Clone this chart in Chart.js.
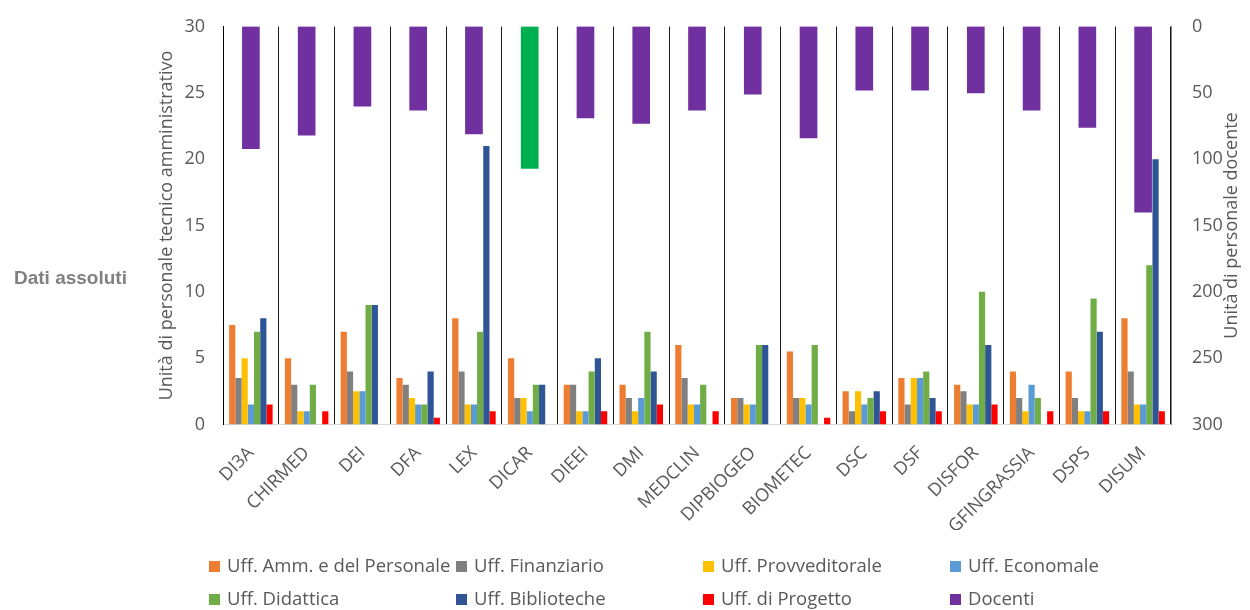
<!DOCTYPE html>
<html>
<head>
<meta charset="utf-8">
<script src="https://cdn.jsdelivr.net/npm/chart.js@4.4.1/dist/chart.umd.min.js"></script>
<style>
  html, body { margin: 0; padding: 0; background: #ffffff; }
  #wrap { width: 1250px; height: 610px; position: relative; }
</style>
</head>
<body>
<div id="wrap"><canvas id="chart" width="1250" height="610"></canvas></div>
<script>
// Dipartimenti
const categories = ['DI3A', 'CHIRMED', 'DEI', 'DFA', 'LEX', 'DICAR', 'DIEEI', 'DMI', 'MEDCLIN',
  'DIPBIOGEO', 'BIOMETEC', 'DSC', 'DSF', 'DISFOR', 'GFINGRASSIA', 'DSPS', 'DISUM'];

// Personale tecnico amministrativo per ufficio (asse sinistro)
const uffAmmPersonale = [7.5, 5, 7, 3.5, 8, 5, 3, 3, 6, 2, 5.5, 2.5, 3.5, 3, 4, 4, 8];
const uffFinanziario  = [3.5, 3, 4, 3, 4, 2, 3, 2, 3.5, 2, 2, 1, 1.5, 2.5, 2, 2, 4];
const uffProvveditorale = [5, 1, 2.5, 2, 1.5, 2, 1, 1, 1.5, 1.5, 2, 2.5, 3.5, 1.5, 1, 1, 1.5];
const uffEconomale    = [1.5, 1, 2.5, 1.5, 1.5, 1, 1, 2, 1.5, 1.5, 1.5, 1.5, 3.5, 1.5, 3, 1, 1.5];
const uffDidattica    = [7, 3, 9, 1.5, 7, 3, 4, 7, 3, 6, 6, 2, 4, 10, 2, 9.5, 12];
const uffBiblioteche  = [8, 0, 9, 4, 21, 3, 5, 4, 0, 6, 0, 2.5, 2, 6, 0, 7, 20];
const uffProgetto     = [1.5, 1, 0, 0.5, 1, 0, 1, 1.5, 1, 0, 0.5, 1, 1, 1.5, 1, 1, 1];

// Personale docente (asse destro, invertito)
const docenti = [92, 82, 60, 63, 81, 107, 69, 73, 63, 51, 84, 48, 48, 50, 63, 76, 140];

// Tacche degli assi
const leftTicks = [0, 5, 10, 15, 20, 25, 30];
const rightTicks = [0, 50, 100, 150, 200, 250, 300];

const FONT = "'Open Sans', 'Liberation Sans', sans-serif";
const TXT = '#595959';

const docentiColors = categories.map(c => c === 'DICAR' ? '#00B050' : '#7030A0');

function barSet(label, data, color) {
  return {
    label, data, backgroundColor: color, borderWidth: 0,
    yAxisID: 'y', categoryPercentage: 0.78, barPercentage: 1.0, order: 1
  };
}

const datasets = [
  barSet('Uff. Amm. e del Personale', uffAmmPersonale, '#ED7D31'),
  barSet('Uff. Finanziario', uffFinanziario, '#808080'),
  barSet('Uff. Provveditorale', uffProvveditorale, '#FFC000'),
  barSet('Uff. Economale', uffEconomale, '#5B9BD5'),
  barSet('Uff. Didattica', uffDidattica, '#70AD47'),
  barSet('Uff. Biblioteche', uffBiblioteche, '#2F5597'),
  barSet('Uff. di Progetto', uffProgetto, '#FF0000'),
  {
    label: 'Docenti', data: docenti, backgroundColor: docentiColors, borderWidth: 0,
    yAxisID: 'y1', grouped: false, barThickness: 17, order: 2
  }
];

// Legenda a griglia (4 colonne), etichetta laterale e titolo dell'asse destro
const gridLegend = {
  id: 'gridLegend',
  afterDraw(chart) {
    const ctx = chart.ctx;
    ctx.save();
    const colX = [209, 456, 703, 950];
    const rowY = [567, 600];
    ctx.font = '18.5px ' + FONT;
    ctx.textBaseline = 'middle';
    ctx.textAlign = 'left';
    chart.data.datasets.forEach((ds, i) => {
      const x = colX[i % 4];
      const y = rowY[Math.floor(i / 4)];
      const col = Array.isArray(ds.backgroundColor) ? ds.backgroundColor[0] : ds.backgroundColor;
      ctx.fillStyle = col;
      ctx.fillRect(x, y - 6, 11, 11);
      ctx.fillStyle = TXT;
      ctx.fillText(ds.label, x + 18, y);
    });

    ctx.font = "bold 19px 'Liberation Sans', Arial, sans-serif";
    ctx.fillStyle = '#808080';
    ctx.fillText('Dati assoluti', 14, 279);

    const a = chart.chartArea;
    ctx.translate(1232, (a.top + a.bottom) / 2);
    ctx.rotate(-Math.PI / 2);
    ctx.textAlign = 'center';
    ctx.font = '18px ' + FONT;
    ctx.fillStyle = TXT;
    ctx.fillText('Unità di personale docente', 0, 0);
    ctx.restore();
  }
};

function noEdgePadding(scale) {
  scale.paddingTop = 0;
  scale.paddingBottom = 0;
}

new Chart(document.getElementById('chart'), {
  type: 'bar',
  data: { labels: categories, datasets },
  options: {
    responsive: false,
    animation: false,
    layout: { padding: { left: 156, right: 8, top: 26.5, bottom: 80 } },
    plugins: { legend: { display: false }, tooltip: { enabled: false } },
    scales: {
      x: {
        offset: true,
        grid: { display: true, offset: true, color: '#1a1a1a', lineWidth: 1, drawTicks: false },
        border: { display: true, color: '#D9D9D9' },
        ticks: {
          autoSkip: false, minRotation: 45, maxRotation: 45, padding: 18,
          color: TXT, font: { family: FONT, size: 18 }
        },
        afterFit(scale) { scale.height = 105.5; scale.paddingLeft = 0; scale.paddingRight = 0; }
      },
      y: {
        position: 'left', min: 0, max: 30,
        afterBuildTicks(scale) { scale.ticks = leftTicks.map(v => ({ value: v })); },
        grid: { display: false, drawTicks: false },
        border: { display: true, color: '#000000' },
        ticks: { padding: 18, color: TXT, font: { family: FONT, size: 18 } },
        title: {
          display: true, text: 'Unità di personale tecnico amministrativo',
          color: TXT, font: { family: FONT, size: 18 }, padding: 0
        },
        afterFit(scale) { scale.width = 67; noEdgePadding(scale); }
      },
      y1: {
        position: 'right', min: 0, max: 300, reverse: true,
        afterBuildTicks(scale) { scale.ticks = rightTicks.map(v => ({ value: v })); },
        grid: { display: false, drawTicks: false },
        border: { display: true, color: '#808080' },
        ticks: { padding: 21, color: TXT, font: { family: FONT, size: 18 } },
        afterFit(scale) { scale.width = 71; noEdgePadding(scale); }
      }
    }
  },
  plugins: [gridLegend]
});
</script>
</body>
</html>
